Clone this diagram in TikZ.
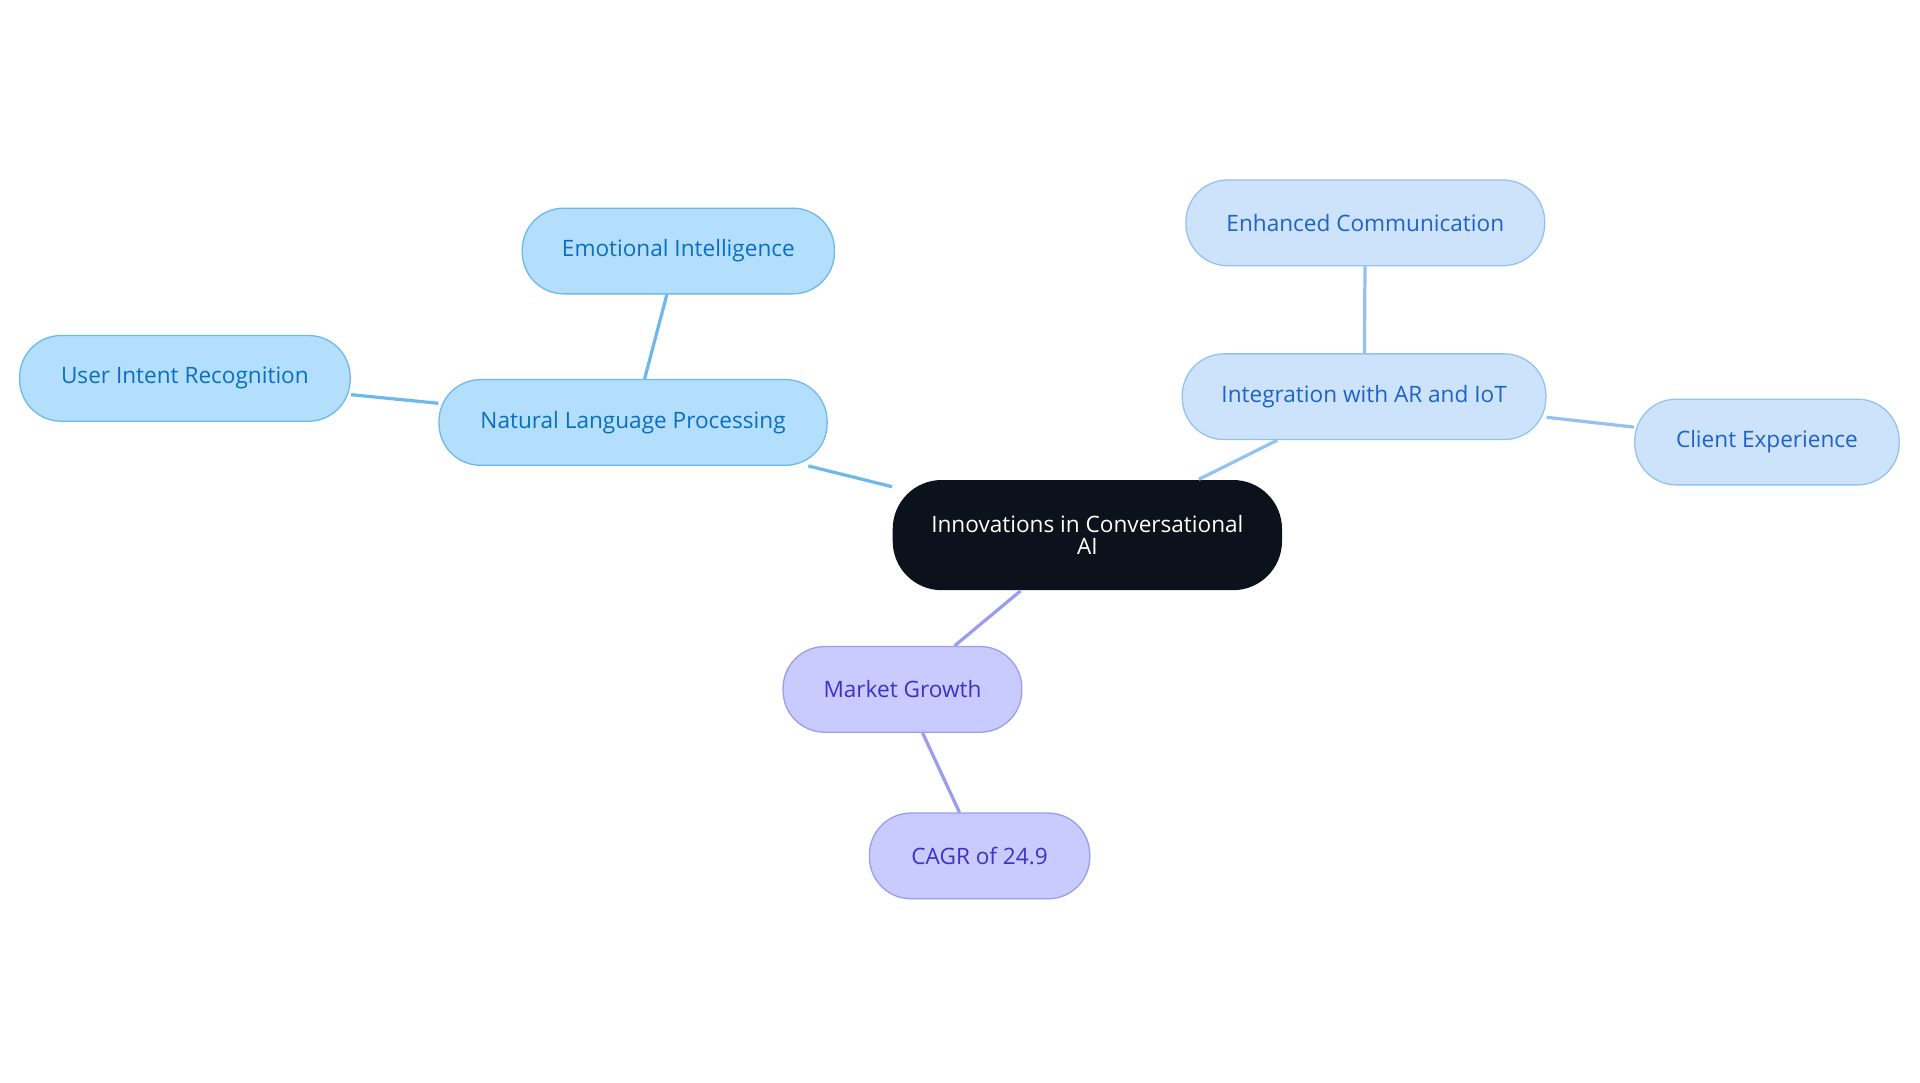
\documentclass[tikz,border=0pt]{standalone}
\usepackage{fontspec}
\setmainfont{Open Sans}
\begin{document}
\begin{tikzpicture}[x=0.02cm,y=-0.02cm,
 base/.style={rounded corners=0.68cm,minimum height=1.4cm,font=\fontsize{10.5}{11}\selectfont,inner sep=0pt,line width=0.6pt,align=center},
 bl/.style={base,fill=blueA,draw=blueAb,text=blueAt},
 lb/.style={base,fill=blueB,draw=blueBb,text=blueBt},
 pu/.style={base,fill=purp,draw=purpb,text=purpt},
 e1/.style={draw=blueAb,line width=1.5pt},
 e2/.style={draw=blueBb,line width=1.5pt},
 e3/.style={draw=purpb,line width=1.5pt}]
\definecolor{blueA}{HTML}{B3DFFC}\definecolor{blueAb}{HTML}{6DB8EC}\definecolor{blueAt}{HTML}{0A6FC2}
\definecolor{blueB}{HTML}{CDE3FB}\definecolor{blueBb}{HTML}{94C2F0}\definecolor{blueBt}{HTML}{1D63C8}
\definecolor{purp}{HTML}{C9CBFE}\definecolor{purpb}{HTML}{9A9CF2}\definecolor{purpt}{HTML}{3B33C8}
\definecolor{dark}{HTML}{0B121B}
\useasboundingbox (0,0) rectangle (1568,884);
\node[base,fill=dark,text=white,minimum width=6.36cm,minimum height=1.8cm,rounded corners=0.8cm,font=\fontsize{10.5}{10.5}\selectfont] (root) at (888,437) {Innovations in Conversational\\AI};
\node[bl,minimum width=6.34cm] (nlp) at (517,345) {Natural Language Processing};
\node[bl,minimum width=5.1cm] (emo) at (554,205) {Emotional Intelligence};
\node[bl,minimum width=5.4cm] (uir) at (151,309) {User Intent Recognition};
\node[lb,minimum width=5.94cm] (iar) at (1114,324) {Integration with AR and IoT};
\node[lb,minimum width=5.86cm] (enh) at (1115,182) {Enhanced Communication};
\node[lb,minimum width=4.32cm] (cli) at (1443,361) {Client Experience};
\node[pu,minimum width=3.9cm] (mkt) at (737,563) {Market Growth};
\node[pu,minimum width=3.6cm] (cagr) at (800,699) {CAGR of 24.9};
\begin{scope}[on background layer/.style={}]
\end{scope}
\draw[e1] (root) -- (nlp);
\draw[e1] (nlp) -- (emo);
\draw[e1] (nlp) -- (uir);
\draw[e2] (root) -- (iar);
\draw[e2] (iar) -- (enh);
\draw[e2] (iar) -- (cli);
\draw[e3] (root) -- (mkt);
\draw[e3] (mkt) -- (cagr);
\end{tikzpicture}
\end{document}
